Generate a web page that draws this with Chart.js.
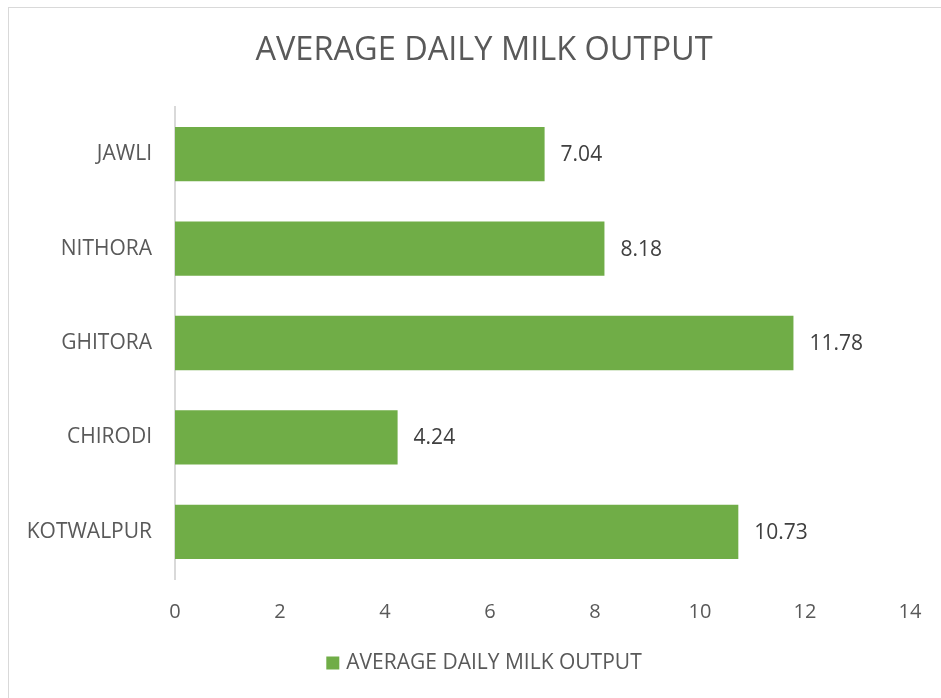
<!DOCTYPE html>
<html>
<head>
<meta charset="utf-8">
<script src="https://cdn.jsdelivr.net/npm/chart.js@4/dist/chart.umd.min.js"></script>
<style>
  html, body { margin: 0; padding: 0; background: #fff; overflow: hidden; }
  #wrap { position: relative; width: 941px; height: 698px; }
  #frame { position: absolute; left: 8px; top: 7px; width: 1000px; height: 800px; border: 1px solid #d9d9d9; box-sizing: border-box; }
  canvas { position: absolute; left: 0; top: 0; }
</style>
</head>
<body>
<div id="wrap">
  <div id="frame"></div>
  <canvas id="milkChart" width="941" height="698"></canvas>
</div>
<script>
'use strict';

const villages = ['JAWLI', 'NITHORA', 'GHITORA', 'CHIRODI', 'KOTWALPUR'];
const milkOutput = [7.04, 8.18, 11.78, 4.24, 10.73];
const seriesName = 'AVERAGE DAILY MILK OUTPUT';
const xTicks = [0, 2, 4, 6, 8, 10, 12, 14];

const FONT = "'Open Sans', 'Noto Sans', sans-serif";
const GREEN = '#70ad47';
const GREY_TEXT = '#595959';
const FRAME_CENTER = 484;   // middle of the bordered frame, not of the canvas

// writes the value just right of each bar
const valueLabels = {
  id: 'valueLabels',
  afterDatasetsDraw(chart) {
    const ctx = chart.ctx;
    const meta = chart.getDatasetMeta(0);
    ctx.save();
    ctx.font = '21px ' + FONT;
    ctx.fillStyle = '#404040';
    ctx.textAlign = 'left';
    ctx.textBaseline = 'middle';
    meta.data.forEach((bar, i) => {
      ctx.fillText(milkOutput[i].toFixed(2), bar.x + 16, bar.y + 1);
    });
    ctx.restore();
  }
};

// title on top and the single legend entry at the bottom, both centred on the frame
const titleAndKey = {
  id: 'titleAndKey',
  afterDraw(chart) {
    const ctx = chart.ctx;
    const ds = chart.data.datasets[0];
    ctx.save();
    ctx.fillStyle = GREY_TEXT;
    ctx.textBaseline = 'middle';
    ctx.textAlign = 'center';
    ctx.font = '32.5px ' + FONT;
    ctx.fillText(seriesName, FRAME_CENTER, 51);

    ctx.font = '21px ' + FONT;
    const box = 13, gap = 7;
    const w = box + gap + ctx.measureText(ds.label).width;
    const x0 = FRAME_CENTER - w / 2;
    const y = 663;
    ctx.fillStyle = ds.backgroundColor;
    ctx.fillRect(x0, y - box / 2, box, box);
    ctx.fillStyle = GREY_TEXT;
    ctx.textAlign = 'left';
    ctx.fillText(ds.label, x0 + box + gap, y);
    ctx.restore();
  }
};

const ctx = document.getElementById('milkChart').getContext('2d');
const chart = new Chart(ctx, {
  type: 'bar',
  data: {
    labels: villages,
    datasets: [{
      label: seriesName,
      data: milkOutput,
      backgroundColor: GREEN,
      borderWidth: 0,
      categoryPercentage: 1,
      barPercentage: 0.575
    }]
  },
  options: {
    indexAxis: 'y',
    responsive: false,
    animation: false,
    layout: { padding: { left: 0, right: 31, top: 107, bottom: 59 } },
    scales: {
      x: {
        min: 0,
        max: 14,
        afterBuildTicks(scale) {
          scale.ticks = xTicks.map(v => ({ value: v }));
        },
        afterFit(scale) { scale.height = 60; },
        grid: { display: false },
        border: { display: false },
        ticks: { color: GREY_TEXT, font: { family: FONT, size: 20 }, padding: 13 }
      },
      y: {
        afterFit(scale) { scale.width = 175; },
        grid: { display: false },
        border: { display: true, color: '#d9d9d9', width: 2 },
        ticks: { color: GREY_TEXT, font: { family: FONT, size: 21 }, padding: 15 }
      }
    },
    plugins: {
      title: { display: false },
      legend: { display: false },
      tooltip: { enabled: false }
    }
  },
  plugins: [valueLabels, titleAndKey]
});
</script>
</body>
</html>
